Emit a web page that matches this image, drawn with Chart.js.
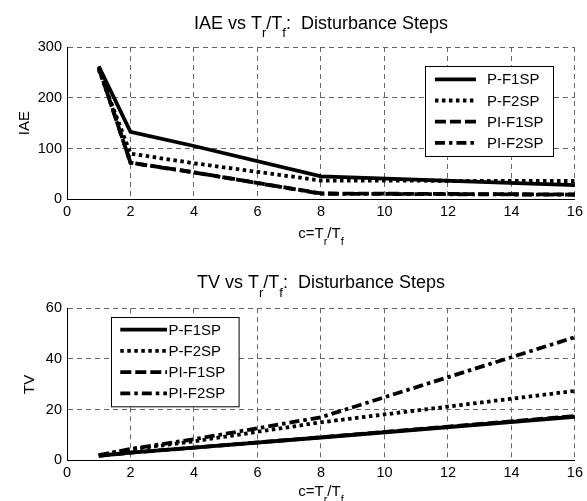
<!DOCTYPE html>
<html>
<head>
<meta charset="utf-8">
<script src="https://cdn.jsdelivr.net/npm/chart.js@4"></script>
<style>
  body { margin: 0; background: #fff; }
  canvas { position: absolute; left: 0; }
</style>
</head>
<body>
<canvas id="iaeChart" width="587" height="250" style="top:0"></canvas>
<canvas id="tvChart" width="587" height="251" style="top:250px"></canvas>
<script>
// DATA
const ratios = [1, 2, 4, 8, 16];
const seriesNames = ["P-F1SP", "P-F2SP", "PI-F1SP", "PI-F2SP"];
// IAE (top plot)
const iaePF1 = [262, 133, 105, 45, 28];
const iaePF2 = [255, 90, 71, 37, 36];
const iaePIF1 = [259, 72, 53, 11.5, 9.5];
const iaePIF2 = [260, 72, 53, 11, 9];
// TV (bottom plot)
const tvPF1 = [1.8, 3, 5, 9, 17.2];
const tvPF2 = [2, 4.3, 7.5, 15, 27.4];
const tvPIF1 = [1.8, 3, 5, 9.1, 17.5];
const tvPIF2 = [2, 4.5, 8.3, 17, 48.6];
// ticks
const xTicks = [0, 2, 4, 6, 8, 10, 12, 14, 16];
const iaeTicks = [0, 100, 200, 300];
const tvTicks = [0, 20, 40, 60];

// STYLE
const FONT = "'Liberation Sans', Arial, Helvetica, sans-serif";
Chart.defaults.font.family = FONT;
Chart.defaults.color = "#000";

const dashes = [[], [3.5, 3.5], [11, 4], [10, 4, 3.5, 4]];

const makeSets = (cols) => cols.map((vals, i) => ({
  label: seriesNames[i],
  data: ratios.map((r, j) => ({ x: r, y: vals[j] })),
  borderColor: "#000",
  borderWidth: 3.8,
  borderDash: dashes[i],
  borderCapStyle: "butt",
  pointRadius: 0,
  tension: 0,
  fill: false,
  order: cols.length - i
}));

// text with subscripts, parts = [[text, isSub], ...]
const drawParts = (ctx, parts, cx, y, size, subSize, drop) => {
  let w = 0;
  parts.forEach(([t, sub]) => {
    ctx.font = (sub ? subSize : size) + "px " + FONT;
    w += ctx.measureText(t).width;
  });
  let x = cx - w / 2;
  ctx.textAlign = "left";
  ctx.textBaseline = "alphabetic";
  parts.forEach(([t, sub]) => {
    ctx.font = (sub ? subSize : size) + "px " + FONT;
    ctx.fillText(t, x, sub ? y + drop : y);
    x += ctx.measureText(t).width;
  });
}

const decor = {
  id: "decor",
  afterDraw(chart, args, o) {
    const ctx = chart.ctx;
    const a = chart.chartArea;
    const cx = (a.left + a.right) / 2;
    ctx.save();
    ctx.fillStyle = "#000";
    drawParts(ctx, o.title, cx, a.top - o.titleGap, 18, 13, 8.5);
    drawParts(ctx, [["c=T", 0], ["r", 1], ["/T", 0], ["f", 1]], cx, a.bottom + o.xTitleGap, 15, 11, 7);

    // y label
    ctx.save();
    ctx.translate(a.left - o.yTitleGap, (a.top + a.bottom) / 2);
    ctx.rotate(-Math.PI / 2);
    ctx.font = "15px " + FONT;
    ctx.textAlign = "center";
    ctx.textBaseline = "alphabetic";
    ctx.fillText(o.yTitle, 0, 0);
    ctx.restore();

    // legend box
    const L = o.legend;
    const bx = L.fromRight ? a.right - L.dx : a.left + L.dx;
    const by = a.top + L.dy;
    ctx.fillStyle = "#fff";
    ctx.fillRect(bx, by, L.w, L.h);
    ctx.strokeStyle = "#000";
    ctx.lineWidth = 1;
    ctx.setLineDash([]);
    ctx.strokeRect(Math.round(bx) + 0.5, Math.round(by) + 0.5, L.w, L.h);
    chart.data.datasets.forEach((ds, i) => {
      const ry = by + 13 + i * 21.2;
      ctx.beginPath();
      ctx.setLineDash(ds.borderDash);
      ctx.lineWidth = ds.borderWidth;
      ctx.lineCap = "butt";
      ctx.moveTo(bx + L.s0, ry);
      ctx.lineTo(bx + L.s1, ry);
      ctx.stroke();
      ctx.setLineDash([]);
      ctx.fillStyle = "#000";
      ctx.font = "15px " + FONT;
      ctx.textAlign = "left";
      ctx.textBaseline = "middle";
      ctx.fillText(ds.label, bx + L.tx, ry + 1);
    });
    ctx.restore();
  }
};

const makeChart = (el, sets, yMax, yStep, yTickList, padTop, xHeight, opts) => new Chart(el, {
  type: "line",
  data: { datasets: sets },
  options: {
    responsive: false,
    animation: false,
    layout: { padding: { top: padTop, left: 17, right: 8, bottom: 0 } },
    plugins: {
      legend: { display: false },
      tooltip: { enabled: false },
      decor: opts
    },
    scales: {
      x: {
        type: "linear",
        min: 0, max: 16,
        afterBuildTicks: (s) => { s.ticks = xTicks.map(v => ({ value: v })); },
        afterFit: (s) => { s.height = xHeight; },
        ticks: { font: { size: 14.5 }, padding: 4, maxRotation: 0, autoSkip: false },
        grid: { color: "#666", lineWidth: 1, drawTicks: false },
        border: { display: true, color: "#000", width: 1, dash: [5, 4] }
      },
      y: {
        min: 0, max: yMax,
        afterBuildTicks: (s) => { s.ticks = yTickList.map(v => ({ value: v })); },
        afterFit: (s) => { s.width = 50; },
        ticks: { font: { size: 14.5 }, padding: 5, stepSize: yStep },
        grid: { color: "#666", lineWidth: 1, drawTicks: false },
        border: { display: true, color: "#000", width: 1, dash: [5, 4] }
      }
    }
  },
  plugins: [decor]
});

makeChart(document.getElementById("iaeChart"),
  makeSets([iaePF1, iaePF2, iaePIF1, iaePIF2]), 300, 100, iaeTicks, 47, 50.7, {
    title: [["IAE vs T", 0], ["r", 1], ["/T", 0], ["f", 1], [":  Disturbance Steps", 0]],
    titleGap: 18.5, xTitleGap: 38.5, yTitle: "IAE", yTitleGap: 38.5,
    legend: { fromRight: true, dx: 149.7, dy: 19.3, w: 128, h: 90, s0: 9.7, s1: 50.7, tx: 61.7 }
  });

makeChart(document.getElementById("tvChart"),
  makeSets([tvPF1, tvPF2, tvPIF1, tvPIF2]), 60, 20, tvTicks, 58.3, 40.7, {
    title: [["TV vs T", 0], ["r", 1], ["/T", 0], ["f", 1], [":  Disturbance Steps", 0]],
    titleGap: 20.3, xTitleGap: 35.5, yTitle: "TV", yTitleGap: 33.4,
    legend: { fromRight: false, dx: 44, dy: 8.4, w: 127.6, h: 89.3, s0: 9.3, s1: 56, tx: 57.6 }
  });
</script>
</body>
</html>
